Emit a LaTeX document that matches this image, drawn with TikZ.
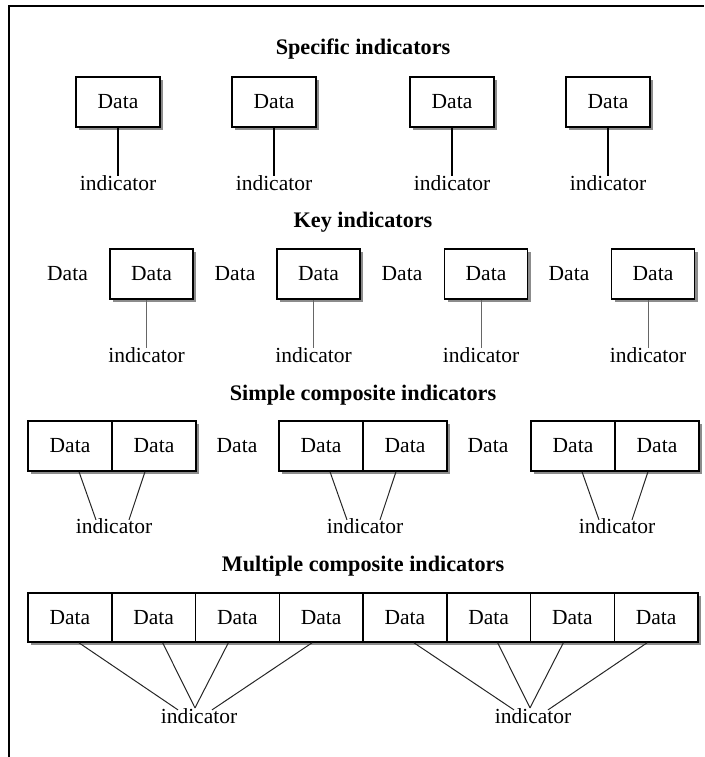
\documentclass[tikz,border=0pt]{standalone}
\usepackage{fontspec}
\setmainfont{Liberation Serif}
\usetikzlibrary{shadows,calc}

\begin{document}
\begin{tikzpicture}[x=1pt,y=-1pt,
  every node/.style={font=\fontsize{21.5}{24}\selectfont},
  cell/.style={draw, line width=1.5pt, fill=white, inner sep=0pt,
    minimum height=50pt, minimum width=84pt,
    drop shadow={shadow xshift=3pt, shadow yshift=-3pt, fill=black!45, opacity=1}},
  word/.style={inner sep=0pt},
  heading/.style={font=\fontsize{22.2}{26}\selectfont\bfseries, anchor=base, inner sep=0pt},
  lbl/.style={anchor=base, inner sep=0pt},
  solidlink/.style={line width=1.4pt, black},
  greylink/.style={line width=1pt, black!60},
  thinlink/.style={line width=1pt, black!85}
]
\useasboundingbox (0,0) rectangle (704,757);

% frame (top and left edges)
\draw[line width=2.2pt] (8.7,757) -- (8.7,6) -- (704,6);

% ---------- Specific indicators ----------
\node[heading] (t1) at (363,55) {Specific indicators};
\foreach \x [count=\i] in {118,274,452,608} {
  \node[cell] (s\i) at (\x,102) {Data};
  \node[lbl] (si\i) at (\x,190) {indicator};
  \draw[solidlink] (s\i.south) -- ($(si\i.north)+(0,1.5)$);
}

% ---------- Key indicators ----------
\node[heading] (t2) at (363,227) {Key indicators};
\foreach \x/\f [count=\i] in {151.5/67.5,318.5/235,486/402,653/569} {
  \node[word] (kf\i) at (\f,274) {Data};
  \node[cell, minimum width=83pt] (k\i) at (\x,274) {Data};
  \node[lbl] (ki\i) at (\x-5,362) {indicator};
  \draw[greylink] ($(k\i.south)+(-5,0)$) -- ($(ki\i.north)+(0,1)$);
}

% ---------- Simple composite indicators ----------
\node[heading] (t3) at (363,400) {Simple composite indicators};
\foreach \l [count=\i] in {28,279,531} {
  \node[cell] (ca\i) at (\l+42,446) {Data};
  \node[cell] (cb\i) at (\l+126,446) {Data};
  \node[lbl] (ci\i) at (\l+86,533) {indicator};
  \draw[thinlink] ($(ca\i.south)+(9,0)$) -- ($(ci\i.north)+(-18,2)$);
  \draw[thinlink] ($(cb\i.south)+(-9,0)$) -- ($(ci\i.north)+(15,2)$);
}
\node[word] (cf1) at (237,446) {Data};
\node[word] (cf2) at (488,446) {Data};

% ---------- Multiple composite indicators ----------
\node[heading] (t4) at (363,571) {Multiple composite indicators};
\foreach \i in {1,...,8} {
  \node[cell, minimum width=83.75pt, minimum height=49pt] (m\i) at (28+83.75*\i-41.875,617.5) {Data};
}
\node[lbl] (mi1) at (199,723) {indicator};
\node[lbl] (mi2) at (533,723) {indicator};
\draw[thinlink] ($(m1.south)+(9,0)$) -- ($(mi1.north)+(-21,2)$);
\draw[thinlink] ($(m2.south)+(9,0)$) -- ($(mi1.north)+(-4,0)$);
\draw[thinlink] ($(m3.south)+(-9,0)$) -- ($(mi1.north)+(-4,0)$);
\draw[thinlink] ($(m4.south)+(-9,0)$) -- ($(mi1.north)+(13,2)$);
\draw[thinlink] ($(m5.south)+(9,0)$) -- ($(mi2.north)+(-19,2)$);
\draw[thinlink] ($(m6.south)+(9,0)$) -- ($(mi2.north)+(-3,0)$);
\draw[thinlink] ($(m7.south)+(-9,0)$) -- ($(mi2.north)+(-3,0)$);
\draw[thinlink] ($(m8.south)+(-9,0)$) -- ($(mi2.north)+(15,2)$);
\end{tikzpicture}
\end{document}
